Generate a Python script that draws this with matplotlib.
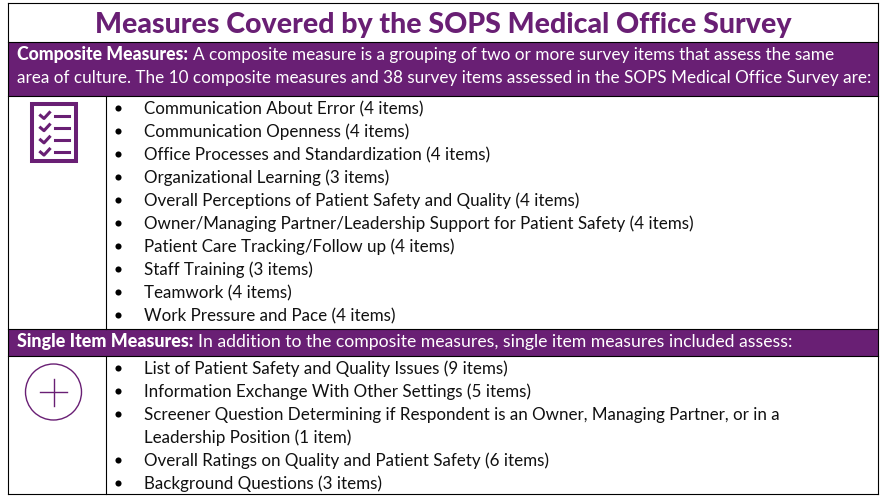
import matplotlib
matplotlib.use("Agg")
import matplotlib.pyplot as plt
from matplotlib.patches import Rectangle, Circle

PURPLE = "#691f74"
FONT = "Lato"

title = "Measures Covered by the SOPS Medical Office Survey"
comp_head = "Composite Measures:"
comp_line1 = "A composite measure is a grouping of two or more survey items that assess the same"
comp_line2 = "area of culture. The 10 composite measures and 38 survey items assessed in the SOPS Medical Office Survey are:"
composite_items = [
    "Communication About Error (4 items)",
    "Communication Openness (4 items)",
    "Office Processes and Standardization (4 items)",
    "Organizational Learning (3 items)",
    "Overall Perceptions of Patient Safety and Quality (4 items)",
    "Owner/Managing Partner/Leadership Support for Patient Safety (4 items)",
    "Patient Care Tracking/Follow up (4 items)",
    "Staff Training (3 items)",
    "Teamwork (4 items)",
    "Work Pressure and Pace (4 items)",
]
single_head = "Single Item Measures:"
single_line = "In addition to the composite measures, single item measures included assess:"
single_items = [
    ("List of Patient Safety and Quality Issues (9 items)", True),
    ("Information Exchange With Other Settings (5 items)", True),
    ("Screener Question Determining if Respondent is an Owner, Managing Partner, or in a", True),
    ("Leadership Position (1 item)", False),
    ("Overall Ratings on Quality and Patient Safety (6 items)", True),
    ("Background Questions (3 items)", True),
]

fig = plt.figure(figsize=(8.82, 5.03), dpi=100)
ax = fig.add_axes([0, 0, 1, 1])
ax.set_xlim(0, 882)
ax.set_ylim(503, 0)
ax.axis("off")

L, R, M = 7.5, 877.5, 105.5
T, B = 2.5, 493.5
ax.add_patch(Rectangle((L, 41.5), R - L, 54, fc=PURPLE, ec="none"))
ax.add_patch(Rectangle((L, 328.5), R - L, 27, fc=PURPLE, ec="none"))
for y in (T, 41.5, 95.5, 328.5, 355.5, B):
    ax.plot([L, R], [y, y], color="black", lw=0.8, solid_capstyle="projecting")
for x in (L, R):
    ax.plot([x, x], [T, B], color="black", lw=0.8, solid_capstyle="projecting")
for a, b in ((95.5, 328.5), (355.5, B)):
    ax.plot([M, M], [a, b], color="black", lw=0.8)

def fit(t, x, y, width, **kw):
    """Place text and scale its size so it spans the reference width in pixels."""
    h = ax.text(x, y, t, va="baseline", family=FONT, **kw)
    r = fig.canvas.get_renderer()
    w = h.get_window_extent(r).width
    h.set_fontsize(h.get_fontsize() * width / w)
    return h

fit(title, 443, 32.5, 695, ha="center", color=PURPLE, fontweight="black", fontsize=20)
fit(comp_head, 17, 60, 171, color="white", fontweight="black", fontsize=12)
fit(comp_line1, 193, 60, 643, color="white", fontsize=12)
fit(comp_line2, 17, 83, 851, color="white", fontsize=12)
fit(single_head, 17, 346.5, 176, color="white", fontweight="black", fontsize=12)
fit(single_line, 198, 346.5, 591, color="white", fontsize=12)

FS = 12.25
for i, t in enumerate(composite_items):
    y = 108 + i * 23
    ax.plot([118.3], [y + 0.3], "o", ms=4.4, mew=0, color="black")
    ax.text(144, y + 6.2, t, va="baseline", family=FONT, fontsize=FS, color="#111111")
for i, (t, bullet) in enumerate(single_items):
    y = 368 + i * 23
    if bullet:
        ax.plot([118.3], [y], "o", ms=4.4, mew=0, color="black")
    ax.text(144, y + 6.2, t, va="baseline", family=FONT, fontsize=FS, color="#111111")

# checklist icon
ax.add_patch(Rectangle((32, 104.3), 43.7, 57, fc="none", ec=PURPLE, lw=2.9))
for i in range(4):
    y = 115.5 + i * 12.2
    ax.plot([40.5, 44, 49.5], [y, y + 3, y - 3], color=PURPLE, lw=2.2)
    ax.plot([55, 68.5], [y, y], color=PURPLE, lw=2.2)

# plus-in-circle icon
ax.add_patch(Circle((53.5, 392), 28, fc="none", ec=PURPLE, lw=1.0))
ax.plot([40, 66.5], [392, 392], color=PURPLE, lw=1.0)
ax.plot([53.5, 53.5], [379, 405.5], color=PURPLE, lw=1.0)

fig.savefig("out.png", dpi=100)
